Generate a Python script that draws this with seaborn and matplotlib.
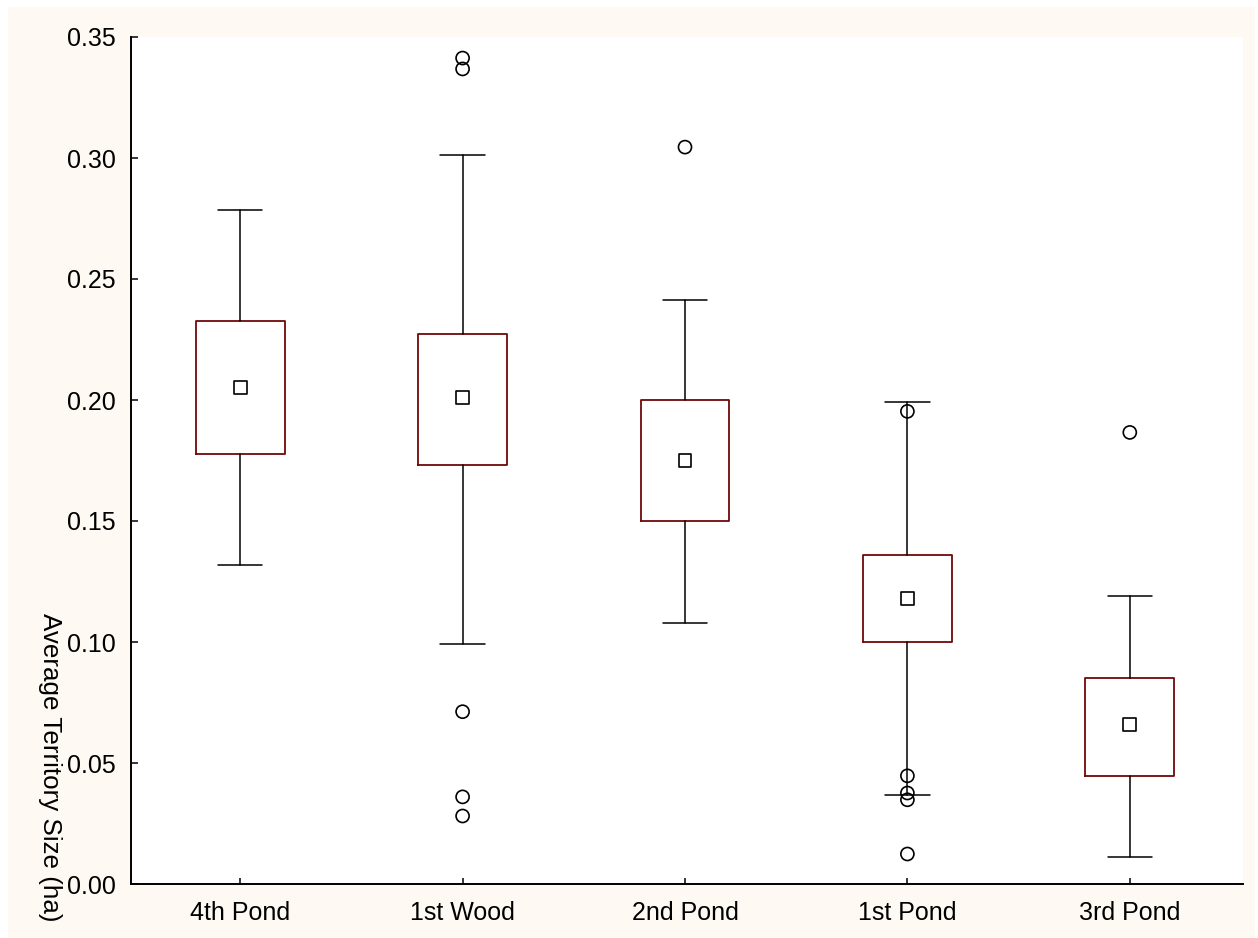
import matplotlib
matplotlib.use("Agg")
import matplotlib.pyplot as plt
from matplotlib.patches import Rectangle
import seaborn as sns
import pandas as pd

# ---- data ----
categories = ["4th Pond", "1st Wood", "2nd Pond", "1st Pond", "3rd Pond"]
medians    = [0.2052, 0.2011, 0.1750, 0.1179, 0.0658]
q1_values  = [0.1775, 0.1733, 0.1498, 0.1001, 0.0447]
q3_values  = [0.2325, 0.2271, 0.1998, 0.1361, 0.0852]
whis_low   = [0.1320, 0.0993, 0.1080, 0.0368, 0.0112]
whis_high  = [0.2784, 0.3012, 0.2412, 0.1990, 0.1191]
outlier_groups = ["1st Wood", "1st Wood", "1st Wood", "1st Wood", "1st Wood",
                  "2nd Pond",
                  "1st Pond", "1st Pond", "1st Pond", "1st Pond", "1st Pond",
                  "3rd Pond"]
outlier_values = [0.3413, 0.3368, 0.0712, 0.0360, 0.0281,
                  0.3045,
                  0.1953, 0.0447, 0.0376, 0.0348, 0.0124,
                  0.1866]
y_ticks = [0.00, 0.05, 0.10, 0.15, 0.20, 0.25, 0.30, 0.35]
y_label = "Average Territory Size (ha)"

CREAM = "#fef9f2"
BOX_RED = "#6e0a0a"

sns.set_style("ticks")
plt.rcParams["font.family"] = ["Liberation Sans", "DejaVu Sans"]

fig = plt.figure(figsize=(12.58, 9.38), dpi=100)
fig.patch.set_facecolor("white")
bg = Rectangle((8 / 1258, 0), (1255 - 8) / 1258, 1 - 7 / 938,
               transform=fig.transFigure, facecolor=CREAM,
               edgecolor="none", zorder=-5)
fig.add_artist(bg)

ax = fig.add_axes([131 / 1258, (938 - 884) / 938, (1243 - 131) / 1258, (884 - 37) / 938])
ax.set_zorder(2)
ax.set_facecolor("white")

stats = []
for c, m, a, b, lo, hi in zip(categories, medians, q1_values, q3_values, whis_low, whis_high):
    stats.append(dict(label=c, med=m, q1=a, q3=b, whislo=lo, whishi=hi, fliers=[]))

ax.bxp(stats, positions=range(len(categories)), widths=0.4, capwidths=0.2,
       showfliers=False,
       boxprops=dict(color=BOX_RED, linewidth=1.3),
       whiskerprops=dict(color="black", linewidth=1.1),
       capprops=dict(color="black", linewidth=1.1),
       medianprops=dict(linewidth=0))

med_df = pd.DataFrame({"group": categories, "value": medians})
out_df = pd.DataFrame({"group": outlier_groups, "value": outlier_values})

sns.stripplot(data=med_df, x="group", y="value", order=categories, jitter=False,
              marker="s", s=9.2, facecolor="none", edgecolor="black",
              linewidth=1.2, ax=ax, zorder=5)
sns.stripplot(data=out_df, x="group", y="value", order=categories, jitter=False,
              marker="o", s=9.4, facecolor="none", edgecolor="black",
              linewidth=1.2, ax=ax, zorder=5)

ax.set_xlim(-0.491, len(categories) - 0.491)
ax.set_ylim(0, 0.35)
ax.set_yticks(y_ticks)
ax.set_yticklabels([f"{t:.2f}" for t in y_ticks])
ax.set_xticks(range(len(categories)))
ax.set_xticklabels(categories)
ax.set_xlabel("")
ax.set_ylabel("")

for side in ["top", "right"]:
    ax.spines[side].set_visible(False)
for side in ["left", "bottom"]:
    ax.spines[side].set_color("black")
    ax.spines[side].set_linewidth(1.4)

ax.tick_params(axis="y", direction="in", length=5, width=1.1, pad=11,
               labelsize=18, colors="black")
ax.tick_params(axis="x", direction="in", length=4, width=1.1, pad=12,
               labelsize=18, colors="black")

fig.text(50 / 1258, 1 - 767 / 938, y_label, rotation=270, ha="center",
         va="center", fontsize=18.7, color="black", zorder=3)

fig.savefig("out.png", dpi=100, facecolor=fig.get_facecolor())
